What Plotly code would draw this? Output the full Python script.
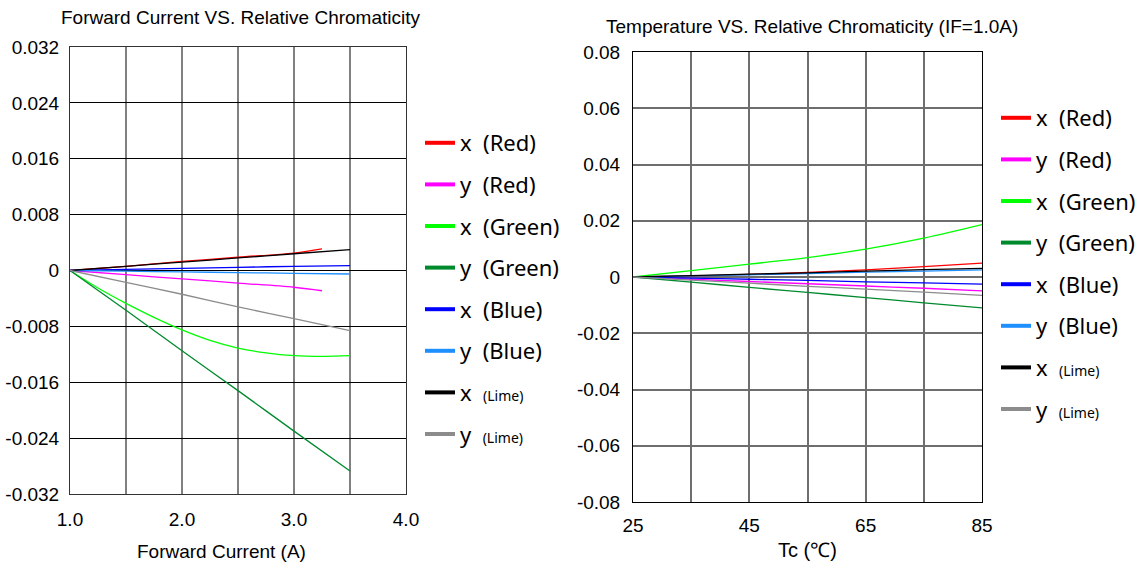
import plotly.graph_objects as go

# ---------------- data ----------------
# Left chart: Forward Current (A) vs relative chromaticity
cur_red = [1.0, 1.5, 2.0, 2.5, 3.0, 3.25]
red_x_I = [0, 0.0006, 0.0013, 0.0019, 0.0025, 0.0031]
red_y_I = [0, -0.0006, -0.0012, -0.0018, -0.0024, -0.0029]

cur_green_x = [1.0, 1.25, 1.5, 1.75, 2.0, 2.25, 2.5, 2.75, 3.0, 3.25, 3.5]
green_x_I = [0, -0.0025, -0.0047, -0.0067, -0.0085, -0.0100, -0.0111, -0.0118, -0.0122, -0.0123, -0.0122]

cur = [1.0, 1.5, 2.0, 2.5, 3.0, 3.5]
green_y_I = [0, -0.0057, -0.0115, -0.0172, -0.0230, -0.0287]
blue_x_I = [0, 0.00015, 0.0003, 0.00045, 0.0006, 0.0007]
blue_y_I = [0, -0.0001, -0.0002, -0.0003, -0.0004, -0.0005]
lime_x_I = [0, 0.0006, 0.0012, 0.0018, 0.0024, 0.0030]
lime_y_I = [0, -0.0017, -0.0034, -0.0052, -0.0069, -0.0086]

# Right chart: Temperature (Tc) vs relative chromaticity
temp = [25, 35, 45, 55, 65, 75, 85]
red_x_T = [0, 0.0004, 0.0009, 0.0016, 0.0025, 0.0037, 0.0049]
red_y_T = [0, -0.0008, -0.0016, -0.0024, -0.0032, -0.0040, -0.0049]
green_x_T = [0, 0.0023, 0.0046, 0.0069, 0.0099, 0.0138, 0.0186]
green_y_T = [0, -0.0018, -0.0037, -0.0055, -0.0073, -0.0092, -0.0110]
blue_x_T = [0, -0.0004, -0.0008, -0.0012, -0.0017, -0.0021, -0.0025]
blue_y_T = [0, 0.0004, 0.0008, 0.0012, 0.0017, 0.0021, 0.0025]
lime_x_T = [0, 0.0005, 0.0010, 0.0015, 0.0021, 0.0026, 0.0031]
lime_y_T = [0, -0.0011, -0.0022, -0.0033, -0.0043, -0.0054, -0.0065]

series_names = ["x\u00a0\u00a0(Red)", "y\u00a0\u00a0(Red)", "x\u00a0\u00a0(Green)", "y\u00a0\u00a0(Green)",
                "x\u00a0\u00a0(Blue)", "y\u00a0\u00a0(Blue)",
                "x\u00a0\u00a0<span style='font-size:14px'>(Lime)</span>",
                "y\u00a0\u00a0<span style='font-size:14px'>(Lime)</span>"]
series_colors = ["#ff0000", "#ff00ff", "#00ff00", "#008a2e", "#0000ff", "#1e8fff", "#000000", "#8c8c8c"]

left_x = [cur_red, cur_red, cur_green_x, cur, cur, cur, cur, cur]
left_y = [red_x_I, red_y_I, green_x_I, green_y_I, blue_x_I, blue_y_I, lime_x_I, lime_y_I]
right_y = [red_x_T, red_y_T, green_x_T, green_y_T, blue_x_T, blue_y_T, lime_x_T, lime_y_T]

left_yticks = [-0.032, -0.024, -0.016, -0.008, 0, 0.008, 0.016, 0.024, 0.032]
left_ytext = ["-0.032", "-0.024", "-0.016", "-0.008", "0", "0.008", "0.016", "0.024", "0.032"]
left_xticks = [1.0, 1.5, 2.0, 2.5, 3.0, 3.5, 4.0]
left_xtext = ["1.0", "", "2.0", "", "3.0", "", "4.0"]
right_yticks = [-0.08, -0.06, -0.04, -0.02, 0, 0.02, 0.04, 0.06, 0.08]
right_ytext = ["-0.08", "-0.06", "-0.04", "-0.02", "0", "0.02", "0.04", "0.06", "0.08"]
right_xticks = [25, 35, 45, 55, 65, 75, 85]
right_xtext = ["25", "", "45", "", "65", "", "85"]

W, H = 1148, 568
TICKFONT = "Liberation Sans, Arial, sans-serif"
LEGFONT = "Noto Sans, Liberation Sans, sans-serif"

fig = go.Figure()

for i in range(8):
    fig.add_trace(go.Scatter(x=left_x[i], y=left_y[i], mode="lines",
                             line=dict(color=series_colors[i], width=1.3, shape="spline"),
                             showlegend=False, xaxis="x", yaxis="y", hoverinfo="skip"))
    fig.add_trace(go.Scatter(x=temp, y=right_y[i], mode="lines",
                             line=dict(color=series_colors[i], width=1.3, shape="spline"),
                             showlegend=False, xaxis="x2", yaxis="y2", hoverinfo="skip"))

# legend entries (thicker sample lines)
for i in range(8):
    fig.add_trace(go.Scatter(x=[None], y=[None], mode="lines", name=series_names[i],
                             line=dict(color=series_colors[i], width=4),
                             legend="legend", legendgroup="L%d" % i, xaxis="x", yaxis="y"))
for i in range(8):
    fig.add_trace(go.Scatter(x=[None], y=[None], mode="lines", name=series_names[i],
                             line=dict(color=series_colors[i], width=4),
                             legend="legend2", legendgroup="R%d" % i, xaxis="x2", yaxis="y2"))

def px(x):
    return x / W

def py(y):
    return 1 - y / H

axis_common = dict(showline=True, mirror=True, linewidth=1, ticks="", zeroline=False,
                   showgrid=True, tickfont=dict(family=TICKFONT, size=19, color="black"))

fig.update_layout(
    template="none",
    width=W, height=H,
    margin=dict(l=0, r=0, t=0, b=0),
    paper_bgcolor="white", plot_bgcolor="white",
    xaxis=dict(domain=[px(70), px(406)], range=[1.0, 4.0], tickvals=left_xticks, ticktext=left_xtext,
               gridcolor="#808080", gridwidth=2, linecolor="#333333", ticklabelstandoff=8,
               anchor="y", **axis_common),
    yaxis=dict(domain=[py(494), py(47)], range=[-0.032, 0.032], tickvals=left_yticks, ticktext=left_ytext,
               gridcolor="#000000", gridwidth=1, linecolor="#333333", ticklabelstandoff=6,
               anchor="x", **axis_common),
    xaxis2=dict(domain=[px(633), px(982)], range=[25, 85], tickvals=right_xticks, ticktext=right_xtext,
                gridcolor="#6e6e6e", gridwidth=2, linecolor="#000000", ticklabelstandoff=6,
                anchor="y2", **axis_common),
    yaxis2=dict(domain=[py(502), py(52)], range=[-0.08, 0.08], tickvals=right_yticks, ticktext=right_ytext,
                gridcolor="#6e6e6e", gridwidth=2, linecolor="#000000", ticklabelstandoff=8,
                anchor="x2", **axis_common),
    legend=dict(x=px(420), y=py(122), xanchor="left", yanchor="top", bgcolor="rgba(0,0,0,0)",
                font=dict(family=LEGFONT, size=22, color="black"), traceorder="grouped",
                tracegroupgap=10, itemwidth=30),
    legend2=dict(x=px(996), y=py(97), xanchor="left", yanchor="top", bgcolor="rgba(0,0,0,0)",
                 font=dict(family=LEGFONT, size=22, color="black"), traceorder="grouped",
                 tracegroupgap=10, itemwidth=30),
    annotations=[
        dict(text="Forward Current VS. Relative Chromaticity", x=px(240), y=py(18), xref="paper", yref="paper",
             xanchor="center", yanchor="middle", showarrow=False,
             font=dict(family=TICKFONT, size=19, color="black")),
        dict(text="Temperature VS. Relative Chromaticity (IF=1.0A)", x=px(812), y=py(26), xref="paper",
             yref="paper", xanchor="center", yanchor="middle", showarrow=False,
             font=dict(family=TICKFONT, size=19, color="black")),
        dict(text="Forward Current (A)", x=px(221), y=py(551), xref="paper", yref="paper",
             xanchor="center", yanchor="middle", showarrow=False,
             font=dict(family=TICKFONT, size=19, color="black")),
        dict(text="Tc (\u2103)", x=px(807), y=py(550), xref="paper", yref="paper",
             xanchor="center", yanchor="middle", showarrow=False,
             font=dict(family=TICKFONT, size=20, color="black")),
    ],
)

fig.write_html("out.html")
